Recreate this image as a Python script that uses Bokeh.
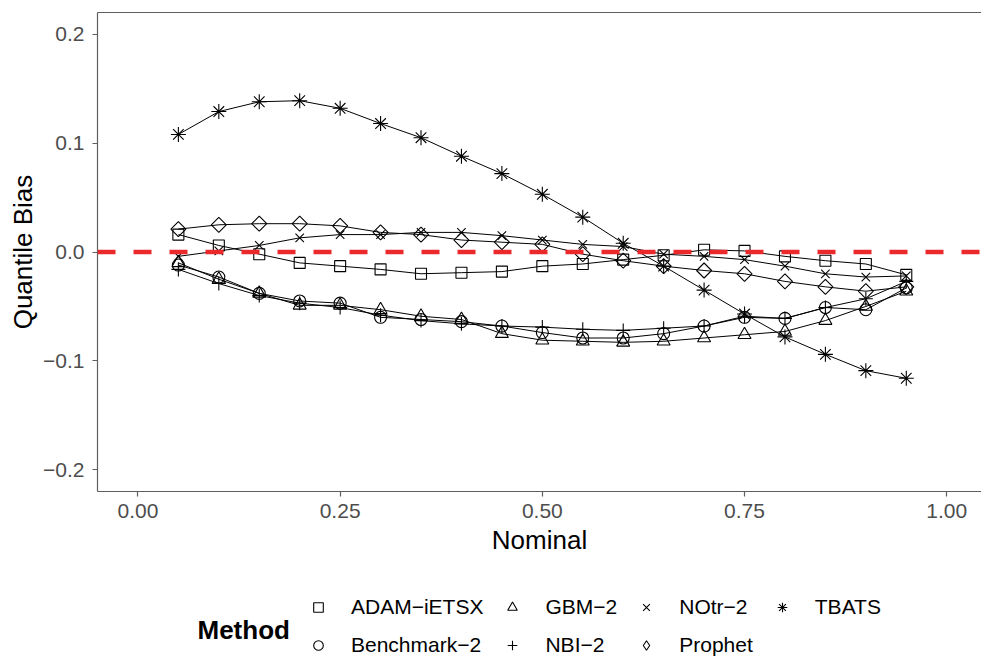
import math
from bokeh.plotting import figure
from bokeh.layouts import column
from bokeh.models import (Span, Legend, LegendItem, Label, LinearAxis, FixedTicker,
                          Range1d, ColumnDataSource)
from bokeh.embed import file_html
from bokeh.resources import INLINE

# ---------------- data ----------------
nominal = [0.05, 0.10, 0.15, 0.20, 0.25, 0.30, 0.35, 0.40, 0.45, 0.50,
           0.55, 0.60, 0.65, 0.70, 0.75, 0.80, 0.85, 0.90, 0.95]

adam_ietsx = [0.016, 0.006, -0.002, -0.010, -0.013, -0.016, -0.020, -0.019, -0.018, -0.013,
              -0.011, -0.007, -0.003, 0.002, 0.001, -0.004, -0.008, -0.011, -0.021]
benchmark_2 = [-0.012, -0.023, -0.038, -0.045, -0.047, -0.060, -0.062, -0.064, -0.068, -0.074,
               -0.079, -0.079, -0.075, -0.068, -0.060, -0.061, -0.051, -0.053, -0.033]
gbm_2 = [-0.010, -0.025, -0.038, -0.049, -0.049, -0.053, -0.059, -0.062, -0.075, -0.081,
         -0.082, -0.083, -0.082, -0.079, -0.076, -0.073, -0.063, -0.050, -0.036]
nbi_2 = [-0.016, -0.029, -0.040, -0.047, -0.051, -0.058, -0.063, -0.066, -0.068, -0.069,
         -0.071, -0.072, -0.070, -0.068, -0.059, -0.061, -0.051, -0.043, -0.027]
notr_2 = [-0.004, 0.001, 0.006, 0.013, 0.016, 0.016, 0.018, 0.018, 0.015, 0.011,
          0.007, 0.005, -0.002, -0.004, -0.007, -0.013, -0.020, -0.023, -0.022]
prophet = [0.021, 0.025, 0.026, 0.026, 0.024, 0.018, 0.016, 0.011, 0.009, 0.007,
           -0.002, -0.008, -0.013, -0.017, -0.020, -0.027, -0.032, -0.036, -0.032]
tbats = [0.108, 0.129, 0.138, 0.139, 0.132, 0.118, 0.105, 0.088, 0.072, 0.053,
         0.032, 0.008, -0.013, -0.035, -0.057, -0.078, -0.094, -0.109, -0.116]

methods = ["ADAM\u2212iETSX", "Benchmark\u22122", "GBM\u22122", "NBI\u22122",
           "NOtr\u22122", "Prophet", "TBATS"]
series = [adam_ietsx, benchmark_2, gbm_2, nbi_2, notr_2, prophet, tbats]

reference_level = 0.0

x_ticks = [0, 0.25, 0.5, 0.75, 1]
x_tick_labels = ["0.00", "0.25", "0.50", "0.75", "1.00"]
y_ticks = [-0.2, -0.1, 0, 0.1, 0.2]
y_tick_labels = ["\u22120.2", "\u22120.1", "0.0", "0.1", "0.2"]

legend_title = "Method"
# ggplot fills the legend column-wise; Bokeh fills row-wise
legend_order = ["ADAM\u2212iETSX", "GBM\u22122", "NOtr\u22122", "TBATS",
                "Benchmark\u22122", "NBI\u22122", "Prophet"]

# ---------------- styles ----------------
FONT = "Liberation Sans"
AXIS_GREY = "#5f5f5f"
marker_style = {
    "ADAM\u2212iETSX": dict(marker="square", size=11, angle=0.0, key="square"),
    "Benchmark\u22122": dict(marker="circle", size=12, angle=0.0, key="circle"),
    "GBM\u22122": dict(marker="triangle", size=13, angle=0.0, key="triangle"),
    "NBI\u22122": dict(marker="cross", size=14, angle=0.0, key="cross"),
    "NOtr\u22122": dict(marker="x", size=12, angle=0.0, key="x"),
    "Prophet": dict(marker="square", size=10.6, angle=math.pi / 4, key="diamond"),
    "TBATS": dict(marker="asterisk", size=15, angle=0.0, key="asterisk"),
}

# ---------------- main plot ----------------
p = figure(width=981, height=582,
           x_range=Range1d(-0.05, 1.043), y_range=Range1d(-0.22, 0.22),
           output_backend="svg", toolbar_location=None,
           min_border_left=97, min_border_top=12, min_border_right=0, min_border_bottom=91)
p.outline_line_color = None
p.xgrid.visible = False
p.ygrid.visible = False

for name, vals in zip(methods, series):
    src = ColumnDataSource(dict(x=nominal, y=vals))
    p.line("x", "y", source=src, line_color="black", line_width=1)
    st = marker_style[name]
    p.scatter("x", "y", source=src, marker=st["marker"], size=st["size"],
              angle=st["angle"], line_color="black", line_width=1.1, fill_color=None)

p.add_layout(Span(location=reference_level, dimension="width", line_color="#EA292D",
                  line_width=4.5, line_dash="18 18"))

for ax in (p.xaxis[0], p.yaxis[0]):
    ax.axis_line_color = AXIS_GREY
    ax.axis_line_width = 1.2
    ax.major_tick_line_color = AXIS_GREY
    ax.major_tick_line_width = 1.2
    ax.major_tick_in = 0
    ax.major_tick_out = 5
    ax.minor_tick_line_color = None
    ax.major_label_text_font = FONT
    ax.major_label_text_font_size = "21px"
    ax.major_label_text_color = "#4D4D4D"
    ax.axis_label_text_font = FONT
    ax.axis_label_text_font_size = "26px"
    ax.axis_label_text_font_style = "normal"
    ax.axis_label_text_color = "black"

p.xaxis.ticker = FixedTicker(ticks=x_ticks)
p.xaxis.major_label_overrides = dict(zip(x_ticks, x_tick_labels))
p.yaxis.ticker = FixedTicker(ticks=y_ticks)
p.yaxis.major_label_overrides = dict(zip(y_ticks, y_tick_labels))
p.xaxis.axis_label = "Nominal"
p.yaxis.axis_label = "Quantile Bias"
p.xaxis.major_label_standoff = 7
p.xaxis.axis_label_standoff = 4
p.yaxis.major_label_standoff = 8
p.yaxis.axis_label_standoff = 2

top = LinearAxis(ticker=FixedTicker(ticks=[]), axis_line_color=AXIS_GREY, axis_line_width=1.2,
                 major_tick_line_color=None, minor_tick_line_color=None,
                 major_label_text_font_size="0px", major_tick_out=0, major_tick_in=0,
                 major_label_standoff=0)
p.add_layout(top, "above")

# ---------------- legend strip ----------------
lg = figure(width=981, height=75, x_range=Range1d(0, 1), y_range=Range1d(0, 1),
            x_axis_type=None, y_axis_type=None,
            output_backend="svg", toolbar_location=None, min_border=0)
lg.outline_line_color = None
lg.grid.visible = False

# key-only renderers (NaN positions: nothing drawn in the strip, only legend keys)
keys = {}
for name in methods:
    st = marker_style[name]
    keys[name] = lg.scatter(x=[float("nan")], y=[float("nan")], marker=st["key"],
                            size=st["size"], line_color="black",
                            line_width=1.1, fill_color=None)

items = [LegendItem(label=n, renderers=[keys[n]]) for n in legend_order]
legend = Legend(items=items, orientation="horizontal", ncols=4,
                location=(206, 0), glyph_width=30, glyph_height=24,
                label_standoff=18, spacing=14, padding=0, margin=0,
                border_line_color=None, background_fill_alpha=0,
                label_text_font=FONT, label_text_font_size="21px",
                label_text_color="black", label_height=24)
lg.add_layout(legend, "center")

lg.add_layout(Label(x=100, y=28, x_units="screen", y_units="screen", text=legend_title,
                    text_font=FONT, text_font_size="26px", text_font_style="bold",
                    text_baseline="middle", text_color="black"))

layout = column(p, lg, spacing=0)
open("out.html", "w").write(file_html(layout, INLINE))
